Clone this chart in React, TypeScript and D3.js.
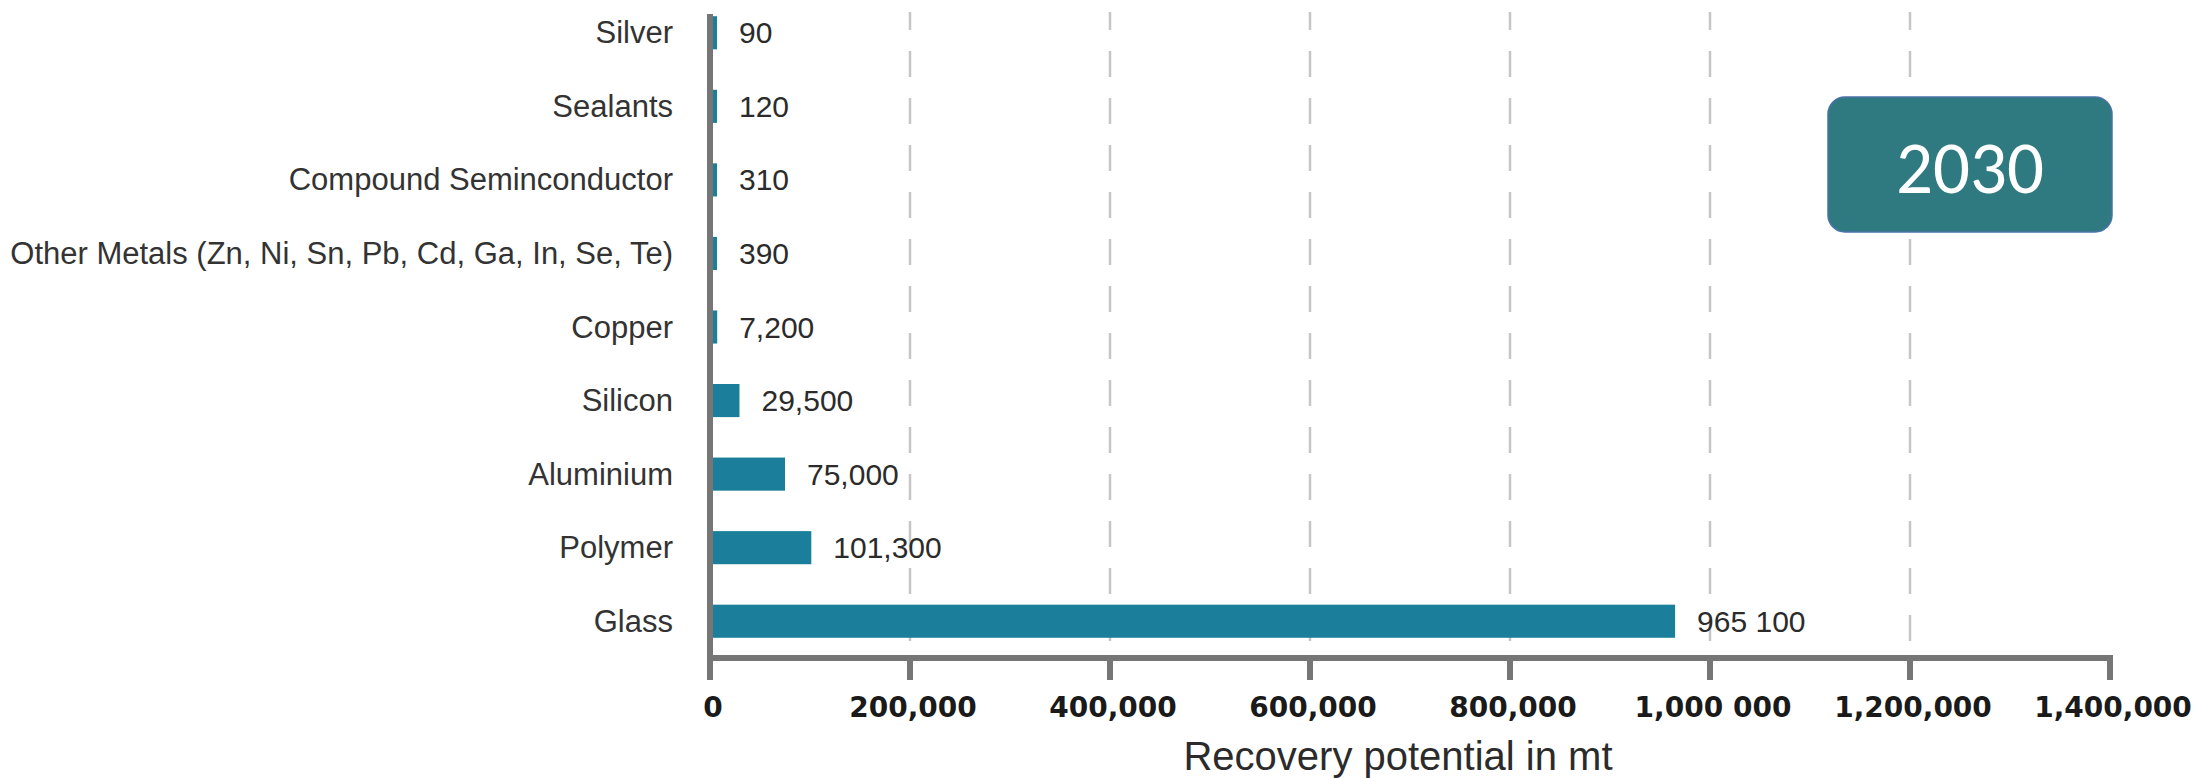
import React from "react";
import * as d3 from "d3";

const categories = [
  "Silver",
  "Sealants",
  "Compound Seminconductor",
  "Other Metals (Zn, Ni, Sn, Pb, Cd, Ga, In, Se, Te)",
  "Copper",
  "Silicon",
  "Aluminium",
  "Polymer",
  "Glass",
];
const values = [90, 120, 310, 390, 7200, 29500, 75000, 101300, 965100];
const valueLabels = ["90", "120", "310", "390", "7,200", "29,500", "75,000", "101,300", "965 100"];
const tickValues = [0, 200000, 400000, 600000, 800000, 1000000, 1200000, 1400000];
const tickLabels = ["0", "200,000", "400,000", "600,000", "800,000", "1,000 000", "1,200,000", "1,400,000"];
const gridValues = [200000, 400000, 600000, 800000, 1000000, 1200000];
const axisTitle = "Recovery potential in mt";
const yearLabel = "2030";

const W = 2193;
const H = 778;

export default function App() {
  const x = d3.scaleLinear().domain([0, 1400000]).range([710, 2110]);
  const y = d3
    .scaleBand<string>()
    .domain(categories)
    .range([-4, 658])
    .paddingInner(0.55)
    .paddingOuter(0.275);
  const axisY = 658;
  const minBarEnd = x(0) + 7;
  const barColor = "#1b7e9a";
  const labelFont = "'Liberation Sans', Arial, sans-serif";

  return (
    <svg
      width={W}
      height={H}
      style={{ position: "absolute", left: 0, top: 0, display: "block", background: "#fff" }}
    >
      {/* grid */}
      {gridValues.map((t) => (
        <line
          key={"g" + t}
          x1={x(t)}
          x2={x(t)}
          y1={12}
          y2={axisY}
          stroke="#c6c6c6"
          strokeWidth={2.5}
          strokeDasharray="26 21"
          strokeDashoffset={8}
        />
      ))}
      {/* bars */}
      {categories.map((c, i) => {
        const end = Math.max(x(values[i]), minBarEnd);
        const yc = (y(c) as number) + y.bandwidth() / 2;
        return (
          <g key={c}>
            <rect
              x={x(0)}
              y={y(c)}
              width={end - x(0)}
              height={y.bandwidth()}
              fill={barColor}
            />
            <text
              x={end + 22}
              y={yc + 10.5}
              fontFamily={labelFont}
              fontSize={30}
              fill="#2b2b2b"
            >
              {valueLabels[i]}
            </text>
            <text
              x={673}
              y={yc + 10.5}
              textAnchor="end"
              fontFamily={labelFont}
              fontSize={31}
              fill="#333"
            >
              {c}
            </text>
          </g>
        );
      })}
      {/* axes */}
      <line x1={x(0)} x2={x(0)} y1={14} y2={680} stroke="#767676" strokeWidth={6} />
      <line x1={x(0) - 3} x2={x(1400000) + 3} y1={axisY} y2={axisY} stroke="#767676" strokeWidth={6} />
      {tickValues.map((t, i) => (
        <g key={"t" + t}>
          <line x1={x(t)} x2={x(t)} y1={axisY} y2={680} stroke="#767676" strokeWidth={6} />
          <text
            x={x(t) + 3}
            y={717}
            textAnchor="middle"
            fontFamily="'DejaVu Sans', sans-serif"
            fontWeight="bold"
            fontSize={28}
            fill="#1a1a1a"
          >
            {tickLabels[i]}
          </text>
        </g>
      ))}
      <text
        x={1398}
        y={770}
        textAnchor="middle"
        fontFamily={labelFont}
        fontSize={40}
        fill="#2b2b2b"
      >
        {axisTitle}
      </text>
      {/* year box */}
      <rect x={1828} y={97} width={284} height={135} rx={17} ry={17} fill="#2e7a80" stroke="#4a72a8" strokeWidth={1.5} />
      <text
        x={1970}
        y={193}
        textAnchor="middle"
        fontFamily="Carlito, 'Open Sans', sans-serif"
        fontSize={73}
        fill="#ffffff"
      >
        {yearLabel}
      </text>
    </svg>
  );
}
